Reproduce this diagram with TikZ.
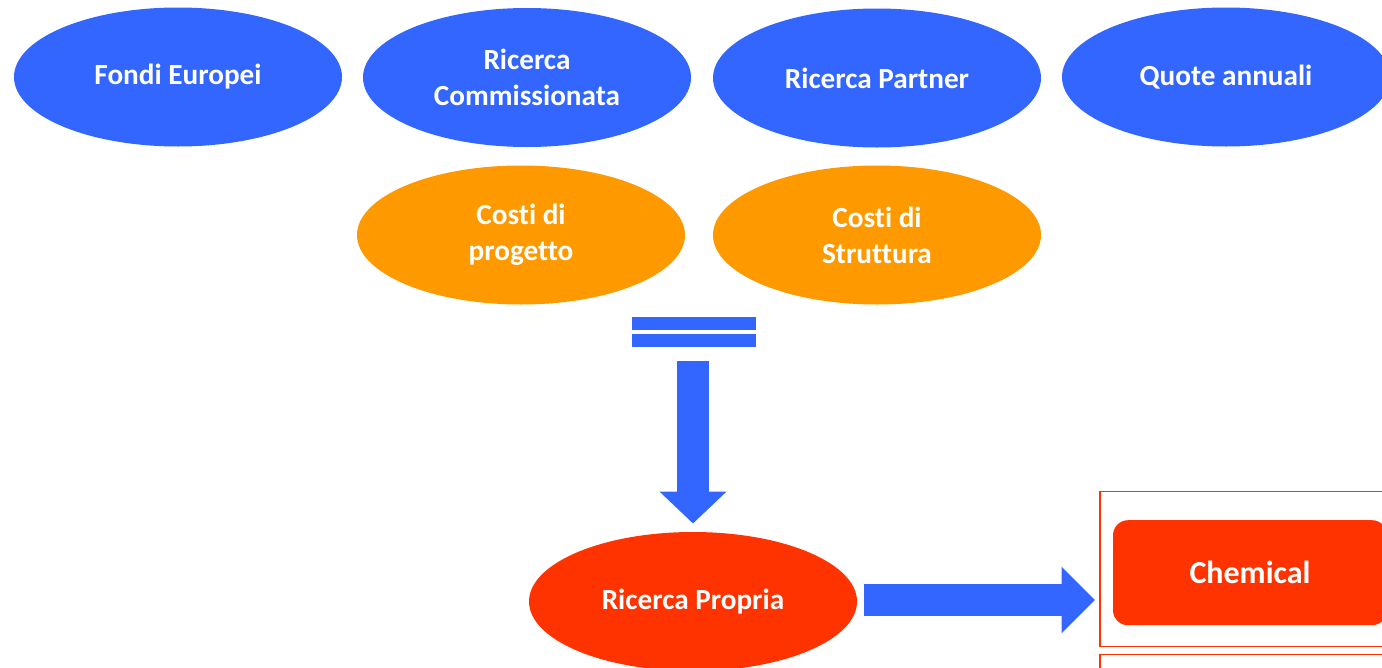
\documentclass[tikz,border=0pt]{standalone}
\usepackage{fontspec}
\setmainfont[RawFeature=-liga]{Carlito}
\usetikzlibrary{shapes.geometric,arrows.meta,calc}
\definecolor{cblue}{HTML}{3366FF}
\definecolor{corange}{HTML}{FF9900}
\definecolor{cred}{HTML}{FF3300}
\tikzset{
  oval/.style={ellipse, minimum width=328pt, minimum height=139pt, inner sep=0pt,
    text=white, font=\bfseries\fontsize{29.2}{36}\selectfont, align=center},
  blueoval/.style={oval, fill=cblue},
  orangeoval/.style={oval, fill=corange},
  redoval/.style={oval, fill=cred},
  frame/.style={draw=cred, line width=1.3pt},
  chembox/.style={rectangle, rounded corners=15pt, fill=cred, minimum width=274pt,
    minimum height=105pt, inner sep=0pt, text=white, font=\bfseries\fontsize{32}{38}\selectfont},
  vblock/.style={draw=cblue, line width=32.6pt, -{Triangle[width=65.3pt, length=32pt]}},
  hblock/.style={draw=cblue, line width=32.4pt, -{Triangle[width=64.4pt, length=33.3pt]}},
}
\begin{document}
\begin{tikzpicture}[x=1pt, y=-1pt]
\useasboundingbox (0,0) rectangle (1382,667);
\clip (0,0) rectangle (1382,667);
% top row
\node[blueoval] (fe) at (178,77) {Fondi Europei};
\node[blueoval] (rc) at (527,77.5) {Ricerca\\Commissionata};
\node[blueoval] (rpa) at (877,78) {Ricerca Partner};
\node[blueoval] (qa) at (1226,77) {Quote annuali};
% second row
\node[orangeoval] (cp) at (521,235) {Costi di\\progetto};
\node[orangeoval] (cs) at (877,235) {Costi di\\Struttura};
% equal sign
\node[minimum width=123.3pt, minimum height=30pt, inner sep=0pt] (eq) at (694.3,331.7) {};
\fill[cblue] (eq.north west) rectangle ($(eq.north east)+(0,13.3)$);
\fill[cblue] ($(eq.south west)+(0,-13.4)$) rectangle (eq.south east);
% Ricerca Propria
\node[redoval] (rp) at (693,601.5) {Ricerca Propria};
% frames
\node[frame, minimum width=320pt, minimum height=155pt, inner sep=0pt, anchor=north west] (f1) at (1099.3,490.7) {};
\node[frame, minimum width=320pt, minimum height=60pt, inner sep=0pt, anchor=north west] (f2) at (1099.3,654) {};
\node[chembox] (ch) at (1250,572.7) {Chemical};
% block arrows
\draw[vblock] ($(rp.north |- eq.south)+(0,13.7)$) -- ($(rp.north)+(0,-8.3)$);
\draw[hblock] ($(rp.east)+(7,-1.5)$) -- ($(f1.west |- rp.east)+(-4.3,-1.5)$);
\end{tikzpicture}
\end{document}
